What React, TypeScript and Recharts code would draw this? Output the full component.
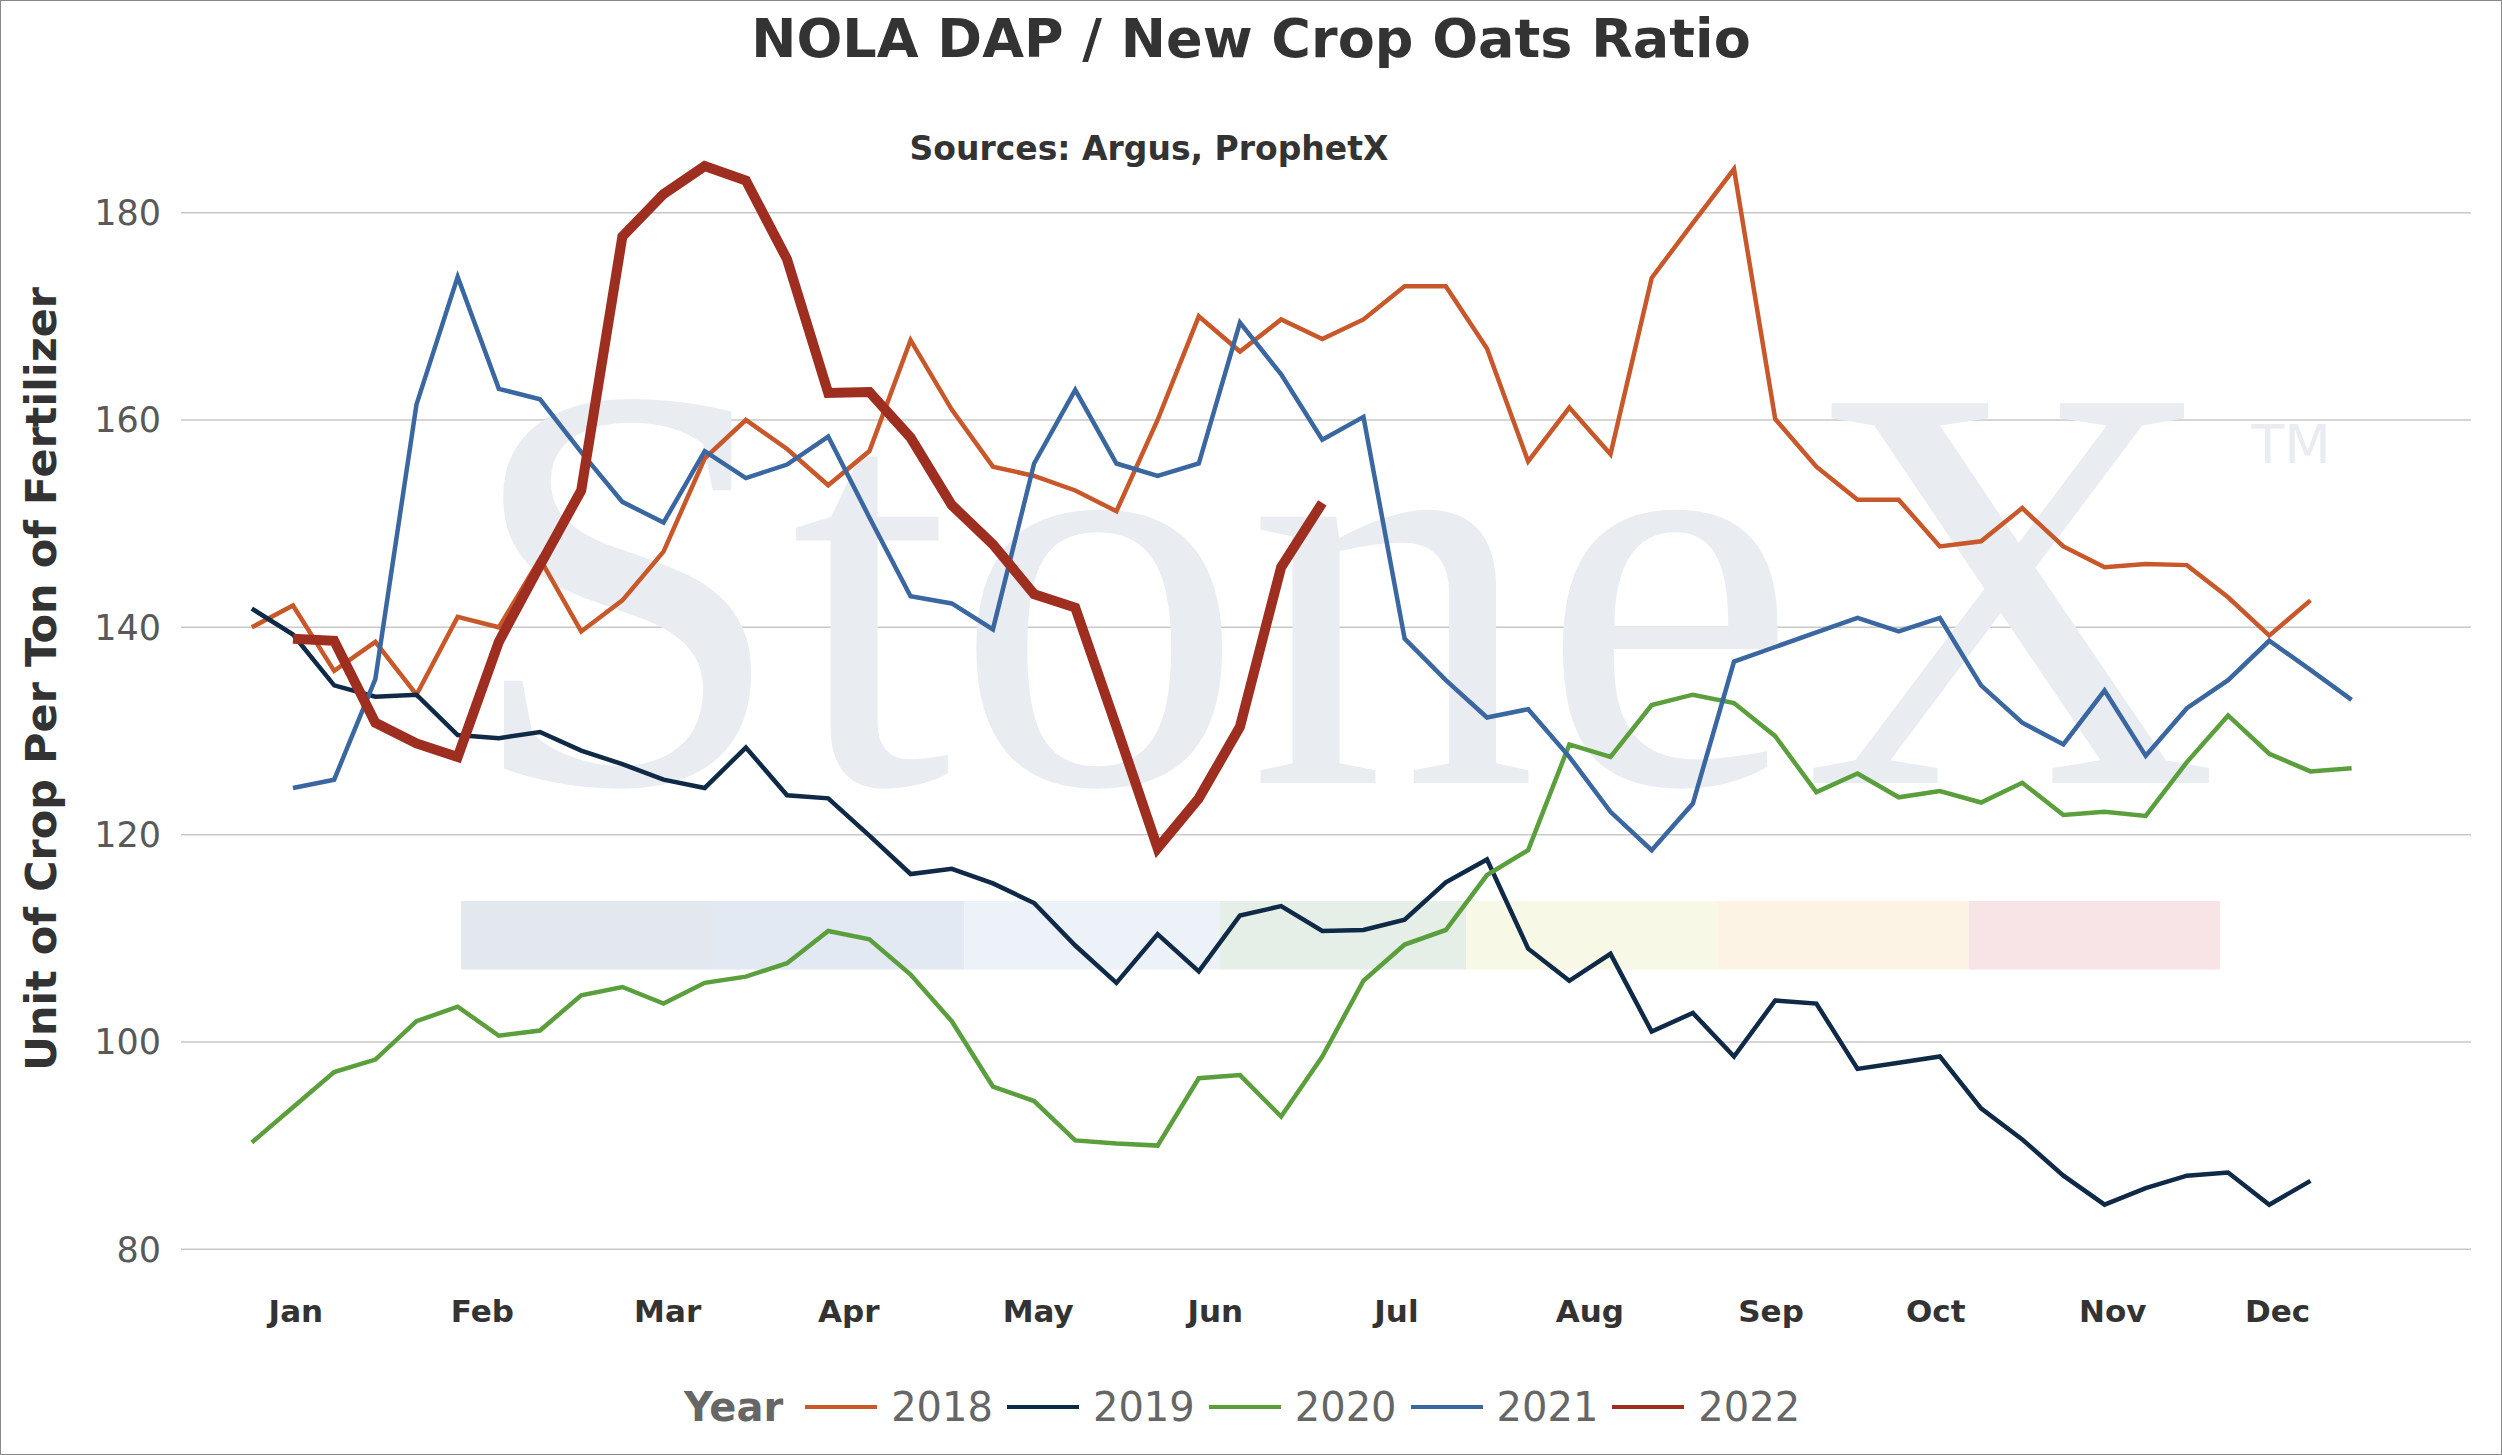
import React from "react";
import { LineChart, Line, XAxis, YAxis, CartesianGrid, ReferenceArea, Customized } from "recharts";

const months = ["Jan", "Feb", "Mar", "Apr", "May", "Jun", "Jul", "Aug", "Sep", "Oct", "Nov", "Dec"];
const monthTicks = [1.07, 5.6, 10.1, 14.5, 19.1, 23.4, 27.8, 32.5, 36.9, 40.9, 45.2, 49.2];
const yTicks = [80, 100, 120, 140, 160, 180];

const y2018 = [140, 142.1, 135.8, 138.6, 133.5, 141, 140, 146.6, 139.6, 142.6, 147.3, 156.3, 160, 157.2, 153.7, 157, 167.7, 161, 155.5, 154.6, 153.2, 151.2, 160, 170, 166.6, 169.7, 167.8, 169.7, 172.9, 172.9, 166.9, 156, 161.2, 156.7, 173.7, 179, 184.2, 160.1, 155.5, 152.3, 152.3, 147.8, 148.3, 151.5, 147.8, 145.8, 146.1, 146, 142.9, 139.2, 142.6];
const y2019 = [141.8, 139.3, 134.4, 133.3, 133.5, 129.6, 129.3, 129.9, 128.1, 126.8, 125.3, 124.5, 128.4, 123.8, 123.5, 119.9, 116.2, 116.7, 115.3, 113.4, 109.3, 105.7, 110.4, 106.8, 112.2, 113.1, 110.7, 110.8, 111.8, 115.4, 117.6, 109, 105.9, 108.5, 101, 102.8, 98.6, 104, 103.7, 97.4, 98, 98.6, 93.6, 90.6, 87.1, 84.3, 85.9, 87.1, 87.4, 84.3, 86.6];
const y2020 = [90.3, 93.7, 97.1, 98.3, 102, 103.4, 100.6, 101.1, 104.5, 105.3, 103.7, 105.7, 106.3, 107.6, 110.7, 109.9, 106.5, 102, 95.7, 94.3, 90.5, 90.2, 90, 96.5, 96.8, 92.8, 98.6, 105.9, 109.4, 110.8, 116.1, 118.5, 128.7, 127.5, 132.5, 133.5, 132.7, 129.5, 124.1, 125.9, 123.6, 124.2, 123.1, 125, 121.9, 122.2, 121.8, 127, 131.5, 127.8, 126.1, 126.4];
const y2021 = [null, 124.5, 125.3, 135, 161.5, 173.8, 163, 162, 156.9, 152.1, 150.1, 157, 154.4, 155.7, 158.4, 150.6, 143, 142.3, 139.8, 155.8, 162.9, 155.8, 154.6, 155.8, 169.4, 164.4, 158.1, 160.3, 138.9, 134.9, 131.3, 132.1, 127.5, 122.2, 118.5, 123, 136.7, 138.1, 139.5, 140.9, 139.6, 140.9, 134.4, 130.8, 128.7, 133.9, 127.6, 132.2, 134.9, 138.7, 135.9, 133];
const y2022 = [null, 138.9, 138.7, 130.8, 128.8, 127.5, 138.6, 146, 153.2, 177.7, 181.8, 184.5, 183.1, 175.5, 162.6, 162.7, 158.3, 151.8, 148, 143.2, 141.9, 130.4, 118.7, 123.5, 130.4, 145.8, 152];

const series = [
  { key: "2018", values: y2018, color: "#c8572a", width: 4.5 },
  { key: "2019", values: y2019, color: "#0e2a47", width: 4.5 },
  { key: "2020", values: y2020, color: "#5b9f3d", width: 4.5 },
  { key: "2021", values: y2021, color: "#3a67a0", width: 4.5 },
  { key: "2022", values: y2022, color: "#9e2f20", width: 10 },
];

const bandEdges = [5.08, 11.2, 17.3, 23.5, 29.5, 35.6, 41.7, 47.8];
const bandColors = ["#e3e7ee", "#e2e9f2", "#edf2f8", "#e5efe7", "#f8f8e6", "#fdf3e4", "#f8e4e6"];

const data = Array.from({ length: 52 }, (_, i) => {
  const row: Record<string, number | null> = { week: i };
  series.forEach((s) => {
    const v = s.values[i];
    row[s.key] = v === undefined ? null : v;
  });
  return row;
});

const Watermark = () => (
  <g>
    <text x={1341} y={782} textAnchor="middle" fontFamily="Liberation Serif, serif" fontSize={580}
      textLength={1755} lengthAdjust="spacing" fill="#e9ecf1">StoneX</text>
    <text x={2290} y={462} textAnchor="middle" fontFamily="DejaVu Sans, sans-serif" fontSize={54} fill="#e9ecf1">TM</text>
  </g>
);

export default function App() {
  return (
    <div style={{ position: "absolute", left: 0, top: 0, width: 2500, height: 1453, border: "1px solid #888", background: "#fff", fontFamily: "DejaVu Sans, Verdana, sans-serif" }}>
      <div style={{ position: "absolute", top: 6, width: "100%", textAlign: "center", fontSize: 54, fontWeight: "bold", color: "#333" }}>
        NOLA DAP / New Crop Oats Ratio
      </div>
      <div style={{ position: "absolute", top: 128, left: 0, width: 2296, textAlign: "center", fontSize: 33, fontWeight: "bold", color: "#333" }}>
        Sources: Argus, ProphetX
      </div>
      <div style={{ position: "absolute", left: 40, top: 678, transform: "translate(-50%, -50%) rotate(-90deg)", whiteSpace: "nowrap", fontSize: 43, fontWeight: "bold", color: "#333" }}>
        Unit of Crop Per Ton of Fertilizer
      </div>
      <LineChart width={2500} height={1453} data={data} margin={{ top: 108, right: 30, left: 80, bottom: 104 }}>
        <Customized component={Watermark} />
        {bandColors.map((c, i) => (
          <ReferenceArea key={i} x1={bandEdges[i]} x2={bandEdges[i + 1]} y1={107} y2={113.6} fill={c} fillOpacity={1} stroke="none" />
        ))}
        <CartesianGrid vertical={false} horizontalValues={yTicks} stroke="#c8c8c8" strokeWidth={1.5} />
        <XAxis dataKey="week" type="number" domain={[-1.72, 53.9]} ticks={monthTicks}
          tickFormatter={(v: number) => months[monthTicks.indexOf(v)] ?? ""}
          axisLine={false} tickLine={false} tickSize={0} tickMargin={30} height={80}
          tick={{ fontSize: 31, fontWeight: "bold", fill: "#333" }} />
        <YAxis type="number" domain={[78, 190]} ticks={yTicks} axisLine={false} tickLine={false}
          tickSize={0} tickMargin={20} width={100} tick={{ fontSize: 35, fill: "#595959" }} />
        {series.map((s) => (
          <Line key={s.key} type="linear" dataKey={s.key} stroke={s.color} strokeWidth={s.width}
            dot={false} isAnimationActive={false} />
        ))}
      </LineChart>
      <div style={{ position: "absolute", left: 683, top: 1383, display: "flex", alignItems: "center", fontSize: 40, color: "#666" }}>
        <span style={{ fontWeight: "bold", marginRight: 22 }}>Year</span>
        {series.map((s) => (
          <span key={s.key} style={{ display: "flex", alignItems: "center", marginRight: 14 }}>
            <span style={{ display: "inline-block", width: 72, height: 4, background: s.color, marginRight: 14 }} />
            {s.key}
          </span>
        ))}
      </div>
    </div>
  );
}
